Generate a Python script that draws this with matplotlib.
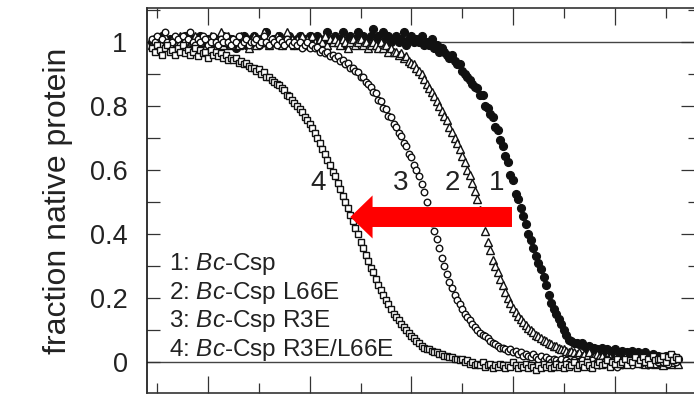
import numpy as np
import matplotlib
matplotlib.use("Agg")
import matplotlib.pyplot as plt
from matplotlib.ticker import MultipleLocator, NullFormatter

plt.rcParams['font.family'] = ['Liberation Sans', 'DejaVu Sans']
plt.rcParams['mathtext.fontset'] = 'custom'
plt.rcParams['mathtext.rm'] = 'Liberation Sans'
plt.rcParams['mathtext.it'] = 'Liberation Sans:italic'

# temperature grid (deg C), 0.25 steps
temperature = np.arange(34.5, 86.5, 0.25)

# 1: Bc-Csp (filled circles)
frac_wt = [
    1.00, 1.01, 0.99, 1.00, 1.02, 0.99, 1.00, 1.01,
    0.98, 1.00, 1.01, 0.99, 1.00, 1.02, 0.98, 1.00,
    1.01, 0.99, 1.00, 1.02, 0.99, 1.00, 1.01, 0.98,
    1.00, 1.01, 0.99, 1.00, 1.02, 1.00, 0.99, 1.01,
    1.00, 0.98, 1.01, 1.00, 1.02, 0.99, 1.00, 1.01,
    1.02, 1.00, 0.99, 1.01, 1.00, 1.03, 0.99, 1.00,
    1.01, 1.00, 1.02, 0.99, 1.01, 1.00, 1.02, 1.00,
    0.99, 1.01, 1.02, 1.00, 1.01, 0.99, 1.02, 1.01,
    1.00, 1.02, 1.01, 0.99, 1.01, 1.03, 1.00, 1.01,
    1.02, 1.00, 1.01, 1.03, 0.99, 1.01, 1.02, 1.00,
    1.01, 1.03, 1.00, 1.02, 1.01, 0.99, 1.02, 1.04,
    1.01, 1.02, 1.00, 1.03, 1.01, 1.02, 1.00, 1.01,
    1.02, 1.00, 1.01, 1.03, 0.99, 1.01, 1.02, 1.00,
    1.01, 1.00, 1.02, 0.99, 1.00, 0.99, 1.01, 0.98,
    0.99, 0.97, 0.98, 0.97, 0.96, 0.95, 0.96, 0.94,
    0.93, 0.93, 0.91, 0.90, 0.89, 0.88, 0.87, 0.86,
    0.855, 0.835, 0.835, 0.80, 0.795, 0.775, 0.765, 0.735,
    0.725, 0.695, 0.675, 0.645, 0.625, 0.585, 0.57, 0.525,
    0.51, 0.48, 0.455, 0.43, 0.40, 0.38, 0.355, 0.33,
    0.31, 0.29, 0.265, 0.24, 0.21, 0.185, 0.165, 0.15,
    0.135, 0.12, 0.10, 0.085, 0.07, 0.065, 0.06, 0.06,
    0.055, 0.06, 0.05, 0.045, 0.05, 0.04, 0.045, 0.04,
    0.035, 0.045, 0.03, 0.04, 0.035, 0.03, 0.04, 0.025,
    0.03, 0.035, 0.02, 0.03, 0.025, 0.035, 0.02, 0.03,
    0.02, 0.025, 0.03, 0.015, 0.02, 0.025, 0.01, 0.02,
    0.015, 0.01, 0.02, 0.005, 0.015, 0.01, 0.0, 0.01,
]

# 2: Bc-Csp L66E (open triangles)
frac_l66e = [
    0.99, 1.00, 1.01, 0.98, 1.00, 1.02, 0.99, 1.00,
    1.01, 0.99, 1.00, 1.02, 0.98, 1.00, 1.01, 0.99,
    1.00, 1.02, 0.99, 1.00, 1.01, 0.98, 1.00, 1.02,
    0.99, 1.00, 1.01, 1.03, 0.99, 1.00, 1.02, 0.99,
    1.01, 1.00, 0.99, 1.02, 1.00, 1.01, 0.98, 1.00,
    1.02, 0.99, 1.01, 1.00, 1.03, 1.00, 0.99, 1.01,
    1.00, 1.02, 1.00, 0.99, 1.01, 1.03, 1.00, 1.01,
    0.99, 1.01, 1.00, 1.02, 0.99, 1.01, 1.00, 1.02,
    1.00, 0.99, 1.01, 1.00, 1.02, 0.99, 1.01, 1.00,
    1.01, 1.00, 0.99, 1.01, 1.00, 0.98, 1.00, 1.01,
    0.99, 1.00, 1.01, 0.99, 1.00, 0.98, 0.99, 1.00,
    0.99, 0.98, 1.00, 0.98, 0.99, 0.97, 0.98, 0.97,
    0.97, 0.96, 0.965, 0.95, 0.955, 0.94, 0.935, 0.93,
    0.92, 0.91, 0.90, 0.885, 0.87, 0.855, 0.845, 0.83,
    0.815, 0.80, 0.785, 0.77, 0.755, 0.735, 0.72, 0.70,
    0.685, 0.665, 0.645, 0.625, 0.60, 0.585, 0.56, 0.535,
    0.51, 0.475, 0.445, 0.41, 0.375, 0.35, 0.32, 0.30,
    0.28, 0.26, 0.24, 0.22, 0.20, 0.185, 0.17, 0.155,
    0.145, 0.135, 0.125, 0.115, 0.105, 0.10, 0.095, 0.085,
    0.08, 0.075, 0.07, 0.065, 0.06, 0.055, 0.05, 0.05,
    0.045, 0.04, 0.04, 0.035, 0.03, 0.035, 0.03, 0.025,
    0.03, 0.02, 0.025, 0.02, 0.03, 0.015, 0.02, 0.025,
    0.015, 0.02, 0.01, 0.02, 0.015, 0.005, 0.015, 0.01,
    0.01, 0.0, 0.015, 0.005, 0.01, 0.0, 0.01, 0.005,
    0.0, 0.01, -0.005, 0.005, 0.0, 0.01, -0.005, 0.0,
    0.005, -0.01, 0.0, 0.01, -0.005, 0.0, 0.01, -0.005,
]

# 3: Bc-Csp R3E (open circles)
frac_r3e = [
    1.01, 1.00, 1.02, 0.99, 1.01, 1.03, 1.00, 0.99,
    1.00, 1.02, 1.01, 0.99, 1.02, 1.00, 1.01, 1.03,
    1.00, 0.99, 1.01, 1.00, 1.02, 1.01, 0.99, 1.00,
    1.02, 1.00, 0.99, 1.01, 1.00, 1.02, 1.00, 0.99,
    1.01, 1.00, 1.02, 0.99, 1.00, 1.01, 0.99, 1.00,
    1.00, 1.01, 0.99, 1.00, 1.02, 1.00, 0.99, 1.01,
    1.00, 0.99, 1.01, 1.00, 0.99, 1.01, 1.00, 0.99,
    1.00, 0.99, 1.00, 0.98, 0.99, 1.00, 0.98, 0.99,
    0.98, 0.985, 0.97, 0.975, 0.965, 0.97, 0.955, 0.96,
    0.95, 0.955, 0.94, 0.945, 0.93, 0.935, 0.92, 0.92,
    0.91, 0.905, 0.89, 0.89, 0.875, 0.87, 0.86, 0.845,
    0.84, 0.82, 0.815, 0.795, 0.79, 0.77, 0.765, 0.745,
    0.735, 0.715, 0.705, 0.685, 0.675, 0.65, 0.64, 0.615,
    0.60, 0.58, 0.555, 0.53, 0.50, 0.47, 0.435, 0.41,
    0.385, 0.355, 0.325, 0.30, 0.275, 0.25, 0.23, 0.21,
    0.195, 0.18, 0.165, 0.15, 0.14, 0.13, 0.12, 0.11,
    0.10, 0.09, 0.085, 0.08, 0.075, 0.065, 0.06, 0.055,
    0.05, 0.045, 0.045, 0.04, 0.035, 0.04, 0.03, 0.035,
    0.025, 0.03, 0.02, 0.025, 0.02, 0.015, 0.025, 0.015,
    0.01, 0.02, 0.005, 0.015, 0.01, 0.0, 0.01, 0.005,
    0.0, 0.01, -0.005, 0.005, 0.0, -0.01, 0.005, 0.0,
    -0.005, 0.005, -0.01, 0.0, -0.015, 0.005, -0.005, 0.0,
    -0.01, 0.0, -0.005, 0.01, -0.01, -0.005, 0.005, -0.015,
    0.0, -0.01, 0.005, -0.005, 0.01, -0.01, 0.0, 0.005,
    -0.005, 0.01, 0.0, -0.01, 0.005, 0.015, -0.005, 0.0,
    0.01, 0.0, 0.015, -0.005, 0.005, 0.02, 0.0, 0.01,
]

# 4: Bc-Csp R3E/L66E (open squares)
frac_r3e_l66e = [
    0.98, 0.97, 0.99, 0.975, 0.96, 0.98, 0.99, 0.97,
    0.975, 0.96, 0.98, 0.97, 0.99, 0.965, 0.975, 0.96,
    0.97, 0.98, 0.955, 0.975, 0.965, 0.97, 0.95, 0.975,
    0.96, 0.97, 0.955, 0.965, 0.95, 0.96, 0.945, 0.95,
    0.945, 0.95, 0.935, 0.94, 0.93, 0.935, 0.925, 0.92,
    0.92, 0.91, 0.915, 0.90, 0.905, 0.89, 0.89, 0.88,
    0.875, 0.87, 0.865, 0.855, 0.85, 0.835, 0.83, 0.82,
    0.81, 0.80, 0.79, 0.78, 0.765, 0.755, 0.745, 0.73,
    0.715, 0.70, 0.685, 0.665, 0.65, 0.63, 0.615, 0.595,
    0.58, 0.56, 0.54, 0.52, 0.50, 0.48, 0.46, 0.44,
    0.42, 0.40, 0.375, 0.355, 0.335, 0.315, 0.295, 0.28,
    0.26, 0.24, 0.225, 0.21, 0.195, 0.18, 0.165, 0.15,
    0.14, 0.13, 0.12, 0.11, 0.10, 0.09, 0.08, 0.075,
    0.065, 0.06, 0.05, 0.045, 0.04, 0.04, 0.035, 0.03,
    0.03, 0.025, 0.025, 0.02, 0.02, 0.015, 0.015, 0.01,
    0.01, 0.005, 0.01, 0.0, 0.005, -0.005, 0.0, -0.01,
    -0.005, -0.01, 0.0, -0.015, -0.01, -0.005, -0.02, -0.01,
    -0.015, -0.005, -0.01, -0.02, -0.01, -0.015, 0.0, -0.01,
    -0.02, -0.01, -0.015, -0.005, -0.02, -0.01, -0.015, -0.025,
    -0.01, -0.02, -0.005, -0.015, -0.01, -0.02, -0.015, -0.005,
    -0.015, -0.01, -0.02, -0.005, -0.015, -0.01, 0.0, -0.02,
    -0.01, -0.005, -0.015, 0.0, -0.01, -0.02, -0.005, -0.01,
    0.0, -0.01, -0.005, 0.005, -0.015, 0.0, -0.005, 0.01,
    -0.005, 0.0, 0.01, -0.01, 0.005, 0.0, 0.015, -0.005,
    0.005, 0.015, 0.0, 0.01, -0.005, 0.02, 0.005, 0.01,
    0.01, 0.02, 0.0, 0.015, 0.025, 0.005, 0.015, 0.01,
]

series = [frac_wt, frac_l66e, frac_r3e, frac_r3e_l66e]
markers = ['o', '^', 'o', 's']
filled = [True, False, False, False]
msizes = [5.6, 5.2, 4.7, 4.5]

legend_lines = ["1: $\\mathit{Bc}$-Csp", "2: $\\mathit{Bc}$-Csp L66E",
                "3: $\\mathit{Bc}$-Csp R3E", "4: $\\mathit{Bc}$-Csp R3E/L66E"]
legend_y = [0.2875, 0.197, 0.109, 0.019]
curve_numbers = ['4', '3', '2', '1']
curve_number_x = [50.8, 58.9, 64.0, 68.4]
curve_number_y = 0.559
arrow_tail_x, arrow_tip_x, arrow_y = 69.9, 54.0, 0.453

fig = plt.figure(figsize=(6.94, 3.94), dpi=100)
ax = fig.add_axes([147/694, 1/394, 549/694, 385/394])
ax.set_xlim(34, 88)
ax.set_ylim(-0.097, 1.106)

ax.axhline(0, color='#444444', lw=1.0, zorder=1)
ax.axhline(1, color='#444444', lw=1.0, zorder=1)

for y, m, f, s in zip(series, markers, filled, msizes):
    x = temperature[:len(y)]
    ax.plot(x, y[:len(x)], linestyle='none', marker=m, ms=s,
            mfc='#111111' if f else 'white', mec='#111111', mew=1.0, zorder=3)

txtc = '#222222'
for t, yy in zip(legend_lines, legend_y):
    ax.text(36.15, yy, t, fontsize=17.5, color=txtc, ha='left', va='baseline', zorder=5)
for t, xx in zip(curve_numbers, curve_number_x):
    ax.text(xx, curve_number_y, t, fontsize=20, color=txtc, ha='center', va='center', zorder=5)

ax.annotate('', xy=(arrow_tip_x, arrow_y), xytext=(arrow_tail_x, arrow_y),
            arrowprops=dict(arrowstyle='simple,head_length=1.6,head_width=3.1,tail_width=1.44',
                            mutation_scale=10, color='#ff0000', shrinkA=0, shrinkB=0, lw=0),
            zorder=6)

# spines
for side in ['left', 'top', 'bottom', 'right']:
    ax.spines[side].set_linewidth(1.2)
    ax.spines[side].set_color('#333333')
ax.spines['left'].set_color('#111111')

# ticks
ax.xaxis.set_major_locator(MultipleLocator(10))
ax.xaxis.set_minor_locator(MultipleLocator(5))
ax.xaxis.set_major_formatter(NullFormatter())
ax.tick_params(axis='x', which='major', direction='in', top=True, bottom=True,
               length=12.5, width=0.9, color='#333333')
ax.tick_params(axis='x', which='minor', direction='in', top=True, bottom=True,
               length=7.5, width=0.9, color='#333333')

ax.set_yticks([0, 0.2, 0.4, 0.6, 0.8, 1.0])
ax.set_yticklabels(['0', '0.2', '0.4', '0.6', '0.8', '1'])
ax.yaxis.set_minor_locator(MultipleLocator(0.1))
ax.tick_params(axis='y', which='both', direction='in', left=True, right=False,
               length=9, width=0.9, color='#333333')
ax.tick_params(axis='y', which='major', labelsize=19.5, labelcolor=txtc, pad=14)

axr = ax.twinx()
axr.set_ylim(ax.get_ylim())
axr.set_yticks([0, 0.2, 0.4, 0.6, 0.8, 1.0])
axr.yaxis.set_minor_locator(MultipleLocator(0.1))
axr.yaxis.set_major_formatter(NullFormatter())
axr.tick_params(axis='y', which='major', direction='in', length=11, width=0.9, color='#333333')
axr.tick_params(axis='y', which='minor', direction='in', length=6, width=0.9, color='#333333')
for side in ['left', 'top', 'bottom', 'right']:
    axr.spines[side].set_visible(False)

ax.set_ylabel('fraction native protein', fontsize=23, color=txtc, labelpad=12)

fig.savefig('out.png', dpi=100)
